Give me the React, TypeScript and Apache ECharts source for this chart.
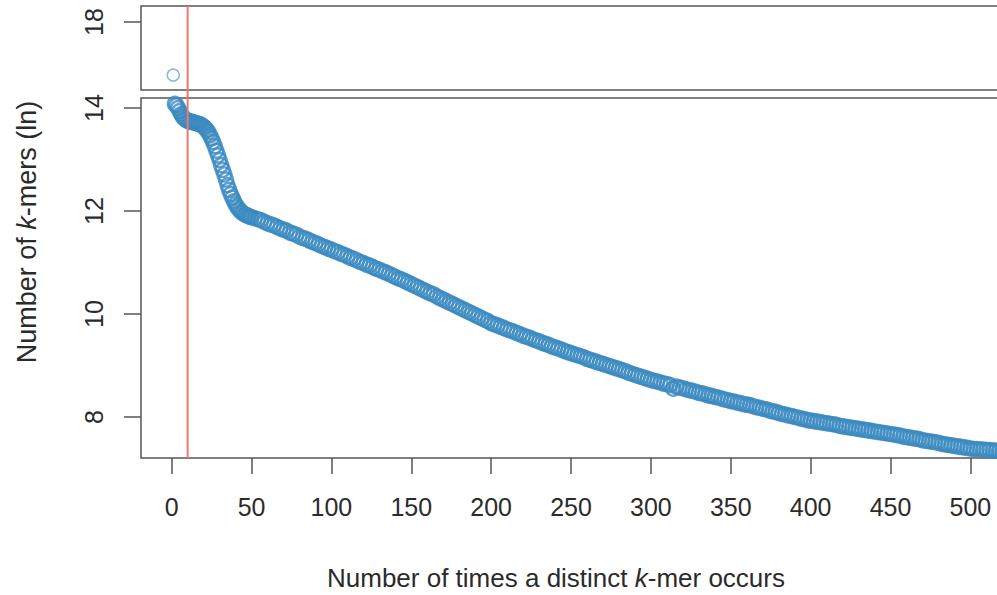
import React, { useEffect, useRef } from "react";
import * as echarts from "echarts";

// x: number of times a distinct k-mer occurs; y: ln(number of k-mers)
const topX = [1];
const topY = [16.97];

// occurrences 2..50 (step 1)
const denseY = [
  14.08, 14.05, 14.0, 13.94, 13.88, 13.83, 13.79, 13.77, 13.75, 13.74,
  13.73, 13.73, 13.72, 13.71, 13.7, 13.69, 13.68, 13.66, 13.64, 13.61,
  13.57, 13.53, 13.47, 13.41, 13.34, 13.26, 13.17, 13.08, 12.99, 12.89,
  12.8, 12.71, 12.61, 12.5, 12.41, 12.33, 12.26, 12.19, 12.13, 12.08,
  12.04, 12.0, 11.97, 11.95, 11.93, 11.92, 11.9, 11.89, 11.88,
];

// occurrences 52..520 (step 2)
const sparseY = [
  11.86, 11.84, 11.82, 11.79, 11.76, 11.74, 11.72, 11.69, 11.66, 11.64,
  11.62, 11.58, 11.56, 11.54, 11.5, 11.48, 11.46, 11.43, 11.4, 11.38,
  11.35, 11.32, 11.3, 11.27, 11.25,
  11.22, 11.2, 11.17, 11.15, 11.12, 11.09, 11.07, 11.04, 11.01, 10.99,
  10.96, 10.94, 10.91, 10.88, 10.86, 10.83, 10.81, 10.78, 10.75, 10.72,
  10.69, 10.67, 10.64, 10.61, 10.58,
  10.55, 10.52, 10.49, 10.46, 10.43, 10.4, 10.38, 10.34, 10.31, 10.28,
  10.25, 10.22, 10.19, 10.16, 10.13, 10.1, 10.07, 10.04, 10.01, 9.98,
  9.95, 9.92, 9.89, 9.86, 9.82,
  9.8, 9.78, 9.75, 9.73, 9.7, 9.68, 9.66, 9.63, 9.61, 9.58,
  9.56, 9.54, 9.51, 9.49, 9.47, 9.44, 9.42, 9.4, 9.37, 9.35,
  9.33, 9.31, 9.28, 9.26, 9.24,
  9.22, 9.2, 9.18, 9.16, 9.13, 9.11, 9.09, 9.07, 9.05, 9.03,
  9.01, 8.99, 8.97, 8.95, 8.93, 8.91, 8.89, 8.86, 8.84, 8.82,
  8.8, 8.78, 8.76, 8.74, 8.72,
  8.7, 8.69, 8.67, 8.65, 8.64, 8.62, 8.55, 8.59, 8.57, 8.56,
  8.54, 8.52, 8.51, 8.49, 8.47, 8.46, 8.44, 8.42, 8.41, 8.39,
  8.38, 8.36, 8.34, 8.33, 8.31,
  8.3, 8.28, 8.27, 8.25, 8.24, 8.23, 8.21, 8.19, 8.18, 8.16,
  8.15, 8.13, 8.11, 8.1, 8.08, 8.06, 8.05, 8.03, 8.02, 8.0,
  7.99, 7.97, 7.96, 7.94, 7.93,
  7.92, 7.91, 7.9, 7.89, 7.88, 7.87, 7.86, 7.85, 7.83, 7.82,
  7.81, 7.8, 7.79, 7.78, 7.77, 7.76, 7.75, 7.74, 7.73, 7.72,
  7.71, 7.7, 7.69, 7.68, 7.67,
  7.66, 7.65, 7.64, 7.62, 7.61, 7.6, 7.59, 7.58, 7.57, 7.55,
  7.54, 7.53, 7.52, 7.51, 7.5, 7.48, 7.47, 7.46, 7.45, 7.44,
  7.43, 7.42, 7.41, 7.4, 7.39,
  7.38, 7.38, 7.37, 7.37, 7.36, 7.36, 7.35, 7.35, 7.34, 7.34,
];

const xTicks = [0, 50, 100, 150, 200, 250, 300, 350, 400, 450, 500];
const yTicksTop = [18];
const yTicksBottom = [8, 10, 12, 14];
const cutoff = 10;

const FONT = "'Liberation Sans', Arial, Helvetica, sans-serif";
const TEXT = "#2b2b2b";
const AXIS = "#555555";
const BLUE = "#3a89c1";

export default function App() {
  const ref = useRef<HTMLDivElement>(null);

  useEffect(() => {
    if (!ref.current) return;
    const chart = echarts.init(ref.current, undefined, { renderer: "svg" });

    const bottomData: number[][] = [];
    denseY.forEach((y, i) => bottomData.push([2 + i, y]));
    sparseY.forEach((y, i) => bottomData.push([52 + 2 * i, y]));
    const topData = topX.map((x, i) => [x, topY[i]]);

    const xMin = -19.2;
    const xMax = 531.7;
    const gridLeft = 141;
    const gridWidth = 880;

    const labelStyle = { fontFamily: FONT, fontSize: 25, color: TEXT };

    chart.setOption({
      animation: false,
      backgroundColor: "#ffffff",
      grid: [
        {
          left: gridLeft, top: 6, width: gridWidth, height: 84,
          show: true, borderColor: AXIS, borderWidth: 1.5, backgroundColor: "transparent",
        },
        {
          left: gridLeft, top: 98, width: gridWidth, height: 360,
          show: true, borderColor: AXIS, borderWidth: 1.5, backgroundColor: "transparent",
        },
      ],
      xAxis: [
        {
          type: "value", gridIndex: 0, min: xMin, max: xMax,
          axisLine: { show: false, onZero: false }, axisTick: { show: false },
          axisLabel: { show: false }, splitLine: { show: false },
        },
        {
          type: "value", gridIndex: 1, min: xMin, max: xMax,
          axisLine: { show: false, onZero: false },
          axisTick: { show: true, length: 16, customValues: xTicks, lineStyle: { color: AXIS, width: 1.5 } },
          axisLabel: { show: true, customValues: xTicks, margin: 36, ...labelStyle },
          splitLine: { show: false },
        },
      ],
      yAxis: [
        {
          type: "value", gridIndex: 0, min: 16.68, max: 18.31,
          axisLine: { show: false, onZero: false },
          axisTick: { show: true, length: 17, customValues: yTicksTop, lineStyle: { color: AXIS, width: 1.5 } },
          axisLabel: { show: true, customValues: yTicksTop, rotate: 90, margin: 35, ...labelStyle },
          splitLine: { show: false },
        },
        {
          type: "value", gridIndex: 1, min: 7.204, max: 14.194,
          axisLine: { show: false, onZero: false },
          axisTick: { show: true, length: 17, customValues: yTicksBottom, lineStyle: { color: AXIS, width: 1.5 } },
          axisLabel: { show: true, customValues: yTicksBottom, rotate: 90, margin: 35, ...labelStyle },
          splitLine: { show: false },
        },
      ],
      series: [
        {
          type: "scatter", xAxisIndex: 0, yAxisIndex: 0, data: topData,
          symbol: "circle", symbolSize: 12,
          itemStyle: { color: "rgba(0,0,0,0)", borderColor: "#6aa8d6", borderWidth: 1.5 },
          silent: true,
        },
        {
          type: "scatter", xAxisIndex: 1, yAxisIndex: 1, data: bottomData,
          symbol: "circle", symbolSize: 14,
          itemStyle: { color: "rgba(0,0,0,0)", borderColor: BLUE, borderWidth: 2.4 },
          silent: true, clip: true,
        },
      ],
    });

    const px = chart.convertToPixel({ xAxisIndex: 1 }, cutoff) as number;

    chart.setOption({
      graphic: [
        {
          type: "line", z: 100,
          shape: { x1: px, y1: 6, x2: px, y2: 458 },
          style: { stroke: "#f07b6b", lineWidth: 2 },
        },
        {
          type: "text", x: 27, y: 232, rotation: Math.PI / 2,
          style: {
            text: "{a|Number of }{i|k}{a|-mers (ln)}",
            align: "center", verticalAlign: "middle",
            rich: {
              a: { fontFamily: FONT, fontSize: 27, fill: TEXT },
              i: { fontFamily: FONT, fontSize: 27, fill: TEXT, fontStyle: "italic" },
            },
          },
        },
        {
          type: "text", x: 556, y: 578,
          style: {
            text: "{a|Number of times a distinct }{i|k}{a|-mer occurs}",
            align: "center", verticalAlign: "middle",
            rich: {
              a: { fontFamily: FONT, fontSize: 26, fill: TEXT },
              i: { fontFamily: FONT, fontSize: 26, fill: TEXT, fontStyle: "italic" },
            },
          },
        },
      ],
    });

    return () => chart.dispose();
  }, []);

  return (
    <div
      ref={ref}
      style={{ position: "fixed", left: 0, top: 0, width: 1040, height: 595 }}
    />
  );
}
